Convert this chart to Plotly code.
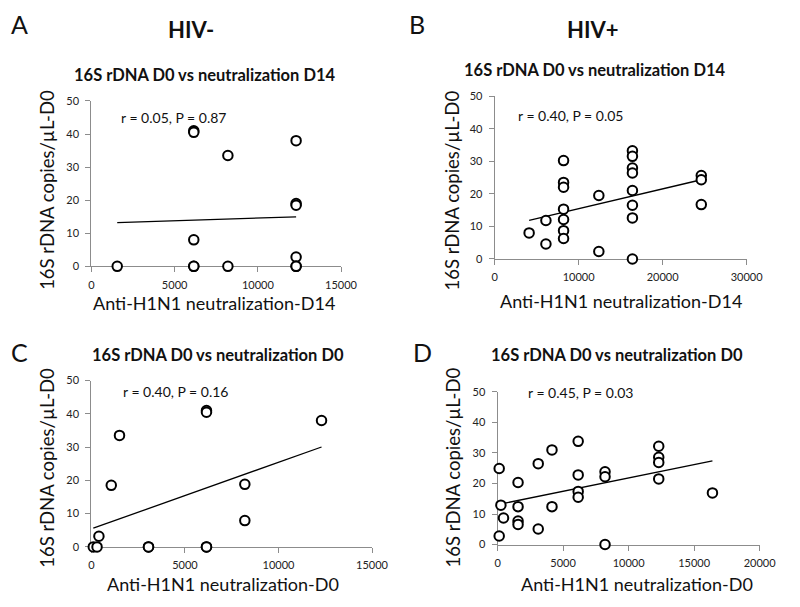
import numpy as np
import plotly.graph_objects as go

# ---------------- data ----------------
# Panel A: HIV-, 16S rDNA D0 vs neutralization D14
a_x = [1550, 6150, 6150, 6150, 6150, 6150, 8200, 8200, 12300, 12300, 12300, 12300, 12300, 12300]
a_y = [0, 41.0, 40.5, 8.0, 0, 0, 33.5, 0, 38.0, 19.0, 18.5, 2.8, 0, 0]

# Panel B: HIV+, 16S rDNA D0 vs neutralization D14
b_x = [4100, 6100, 6100, 8200, 8200, 8200, 8200, 8200, 8200, 8200, 12400, 12400,
       16400, 16400, 16400, 16400, 16400, 16400, 16400, 16400, 24600, 24600, 24600]
b_y = [8.0, 4.6, 11.8, 30.2, 23.5, 22.0, 15.3, 12.1, 8.7, 6.3, 19.5, 2.3,
       33.2, 31.5, 27.9, 26.4, 21.0, 16.5, 12.6, 0, 25.6, 24.3, 16.7]

# Panel C: HIV-, 16S rDNA D0 vs neutralization D0
c_x = [100, 300, 400, 1060, 1500, 3050, 3050, 6150, 6150, 6150, 6150, 8200, 8200, 12300]
c_y = [0, 0, 3.2, 18.5, 33.5, 0, 0, 41.0, 40.5, 0, 0, 18.8, 7.9, 38.0]

# Panel D: HIV+, 16S rDNA D0 vs neutralization D0
d_x = [120, 120, 250, 450, 1560, 1560, 1560, 1560, 3100, 3100, 4150, 4150,
       6150, 6150, 6150, 6150, 8200, 8200, 8200, 12300, 12300, 12300, 12300, 16400]
d_y = [24.9, 2.8, 12.9, 8.7, 20.3, 12.4, 7.7, 6.6, 26.5, 5.1, 31.0, 12.4,
       33.8, 22.8, 17.4, 15.5, 23.8, 22.2, 0, 32.2, 28.6, 26.9, 21.5, 16.9]

stats = ["r = 0.05, P = 0.87", "r = 0.40, P = 0.05", "r = 0.40, P = 0.16", "r = 0.45, P = 0.03"]
subtitles = ["16S rDNA D0 vs neutralization D14", "16S rDNA D0 vs neutralization D14",
             "16S rDNA D0 vs neutralization D0", "16S rDNA D0 vs neutralization D0"]
xtitles = ["Anti-H1N1 neutralization-D14", "Anti-H1N1 neutralization-D14",
           "Anti-H1N1 neutralization-D0", "Anti-H1N1 neutralization-D0"]
ytitle = "16S rDNA copies/µL-D0"
x_max = [15000, 30000, 15000, 20000]
x_dtick = [5000, 10000, 5000, 5000]
panel_letters = ["A", "B", "C", "D"]
headers = ["HIV-", "HIV+"]

# ---------------- layout helpers ----------------
W, H = 800, 607
FONT = "Lato"

def px(x):
    return x / W

def py(y):
    return 1 - y / H

# plot areas in pixels: (left, right, top, bottom)
areas = [(90.7, 346.7, 96, 265), (504.3, 762.7, 91, 257.5),
         (90.7, 378.5, 381.7, 551.7), (507.3, 776, 393.3, 549.3)]

fig = go.Figure()
datasets = [(a_x, a_y), (b_x, b_y), (c_x, c_y), (d_x, d_y)]

for i, (xs, ys) in enumerate(datasets):
    xa = "x" if i == 0 else f"x{i+1}"
    ya = "y" if i == 0 else f"y{i+1}"
    xs_a = np.array(xs, float)
    ys_a = np.array(ys, float)
    slope, icpt = np.polyfit(xs_a, ys_a, 1)
    lx = np.array([xs_a.min(), xs_a.max()])
    fig.add_trace(go.Scatter(x=lx, y=slope * lx + icpt, mode="lines", xaxis=xa, yaxis=ya,
                             line=dict(color="black", width=1.3), hoverinfo="skip"))
    fig.add_trace(go.Scatter(x=xs, y=ys, mode="markers", xaxis=xa, yaxis=ya, cliponaxis=False,
                             marker=dict(symbol="circle", size=9.5, color="white",
                                         line=dict(color="black", width=2))))

axis_common = dict(showgrid=False, zeroline=False, showline=True, linecolor="#8c8c8c",
                   linewidth=1.2, ticks="outside", ticklen=5, tickcolor="#8c8c8c",
                   tickformat="d",
                   tickfont=dict(family=FONT, size=11, color="#222"), layer="below traces")

layout = dict(width=W, height=H, margin=dict(l=0, r=0, t=0, b=0), showlegend=False,
              plot_bgcolor="white", paper_bgcolor="white")
for i, (l, r, t, b) in enumerate(areas):
    xk = "xaxis" if i == 0 else f"xaxis{i+1}"
    yk = "yaxis" if i == 0 else f"yaxis{i+1}"
    ya = "y" if i == 0 else f"y{i+1}"
    xa = "x" if i == 0 else f"x{i+1}"
    layout[xk] = dict(axis_common, domain=[px(l), px(r)], range=[0, x_max[i]], dtick=x_dtick[i],
                      tick0=0, anchor=ya, ticklabelstandoff=3)
    layout[yk] = dict(axis_common, domain=[py(b), py(t)], range=[0, 50], dtick=10, tick0=0,
                      anchor=xa, ticklabelstandoff=4)
fig.update_layout(**layout)

def ann(text, x, y, size, bold=False, angle=0, color="#111"):
    fig.add_annotation(text=f"<b>{text}</b>" if bold else text, x=px(x), y=py(y),
                       xref="paper", yref="paper", showarrow=False, xanchor="center",
                       yanchor="middle", textangle=angle,
                       font=dict(family=FONT, size=size, color=color))

# panel letters and group headers
for letter, (x, y) in zip(panel_letters, [(16.5, 17), (425, 17), (16.5, 353), (430, 353)]):
    ann(letter, x, y, 25)
for hdr, (x, y) in zip(headers, [(193, 23), (605, 23)]):
    ann(hdr, x, y, 22, bold=True)

# subplot titles
for t, (x, y) in zip(subtitles, [(207, 69), (607, 64), (220, 356), (630, 356)]):
    ann(t, x, y, 16.5, bold=True)

# r / P statistics
for s, (x, y) in zip(stats, [(175, 113), (583, 111), (177, 393), (593, 394)]):
    ann(s, x, y, 14)

# axis titles
for t, (x, y) in zip(xtitles, [(216, 302), (634, 300), (226, 590), (650, 590)]):
    ann(t, x, y, 18)
for (x, y) in [(45, 187), (460, 187), (45, 471), (461, 470)]:
    ann(ytitle, x, y, 18.5, angle=-90)

fig.write_html("out.html", config={"displayModeBar": False},
               post_script="document.body.style.margin='0';document.body.style.overflow='hidden';")
